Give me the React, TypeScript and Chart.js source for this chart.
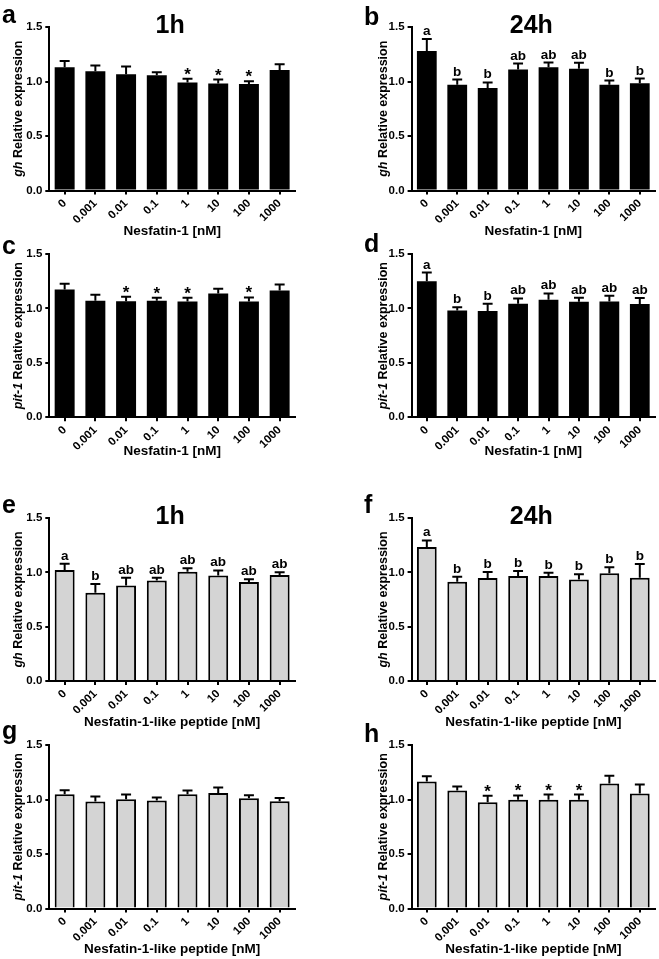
import React, { useEffect, useRef } from 'react';
import { Chart, registerables } from 'chart.js';

Chart.register(...registerables);

const FONT = '"Liberation Sans", Arial, sans-serif';

// ---- data ----
const doses = ['0', '0.001', '0.01', '0.1', '1', '10', '100', '1000'];
const yTickValues = [0, 0.5, 1.0, 1.5];

// a: gh, Nesfatin-1, 1h
const ghNesf1hMean = [1.13, 1.095, 1.067, 1.058, 0.99, 0.982, 0.976, 1.106];
const ghNesf1hSem = [0.057, 0.052, 0.07, 0.027, 0.036, 0.036, 0.027, 0.052];
const ghNesf1hSig = ['', '', '', '', '*', '*', '*', ''];

// b: gh, Nesfatin-1, 24h
const ghNesf24hMean = [1.28, 0.97, 0.94, 1.11, 1.13, 1.116, 0.97, 0.985];
const ghNesf24hSem = [0.11, 0.048, 0.051, 0.055, 0.044, 0.055, 0.039, 0.042];
const ghNesf24hSig = ['a', 'b', 'b', 'ab', 'ab', 'ab', 'b', 'b'];

// c: pit-1, Nesfatin-1, 1h
const pitNesf1hMean = [1.174, 1.07, 1.067, 1.07, 1.064, 1.138, 1.064, 1.165];
const pitNesf1hSem = [0.052, 0.055, 0.04, 0.028, 0.034, 0.042, 0.037, 0.055];
const pitNesf1hSig = ['', '', '*', '*', '*', '', '*', ''];

// d: pit-1, Nesfatin-1, 24h
const pitNesf24hMean = [1.25, 0.982, 0.976, 1.043, 1.08, 1.061, 1.064, 1.04];
const pitNesf24hSem = [0.08, 0.03, 0.067, 0.049, 0.058, 0.037, 0.052, 0.055];
const pitNesf24hSig = ['a', 'b', 'b', 'ab', 'ab', 'ab', 'ab', 'ab'];

// e: gh, Nesfatin-1-like peptide, 1h
const ghLike1hMean = [1.021, 0.813, 0.878, 0.924, 1.006, 0.972, 0.911, 0.976];
const ghLike1hSem = [0.059, 0.08, 0.073, 0.027, 0.031, 0.046, 0.025, 0.024];
const ghLike1hSig = ['a', 'b', 'ab', 'ab', 'ab', 'ab', 'ab', 'ab'];

// f: gh, Nesfatin-1-like peptide, 24h
const ghLike24hMean = [1.232, 0.914, 0.948, 0.966, 0.966, 0.933, 0.991, 0.951];
const ghLike24hSem = [0.062, 0.046, 0.055, 0.046, 0.031, 0.049, 0.055, 0.125];
const ghLike24hSig = ['a', 'b', 'b', 'b', 'b', 'b', 'b', 'b'];

// g: pit-1, Nesfatin-1-like peptide, 1h
const pitLike1hMean = [1.049, 0.982, 1.003, 0.991, 1.049, 1.061, 1.012, 0.985];
const pitLike1hSem = [0.037, 0.046, 0.043, 0.027, 0.034, 0.049, 0.028, 0.03];
const pitLike1hSig = ['', '', '', '', '', '', '', ''];

// h: pit-1, Nesfatin-1-like peptide, 24h
const pitLike24hMean = [1.165, 1.083, 0.976, 0.997, 0.997, 0.997, 1.147, 1.055];
const pitLike24hSem = [0.049, 0.036, 0.058, 0.04, 0.049, 0.049, 0.07, 0.083];
const pitLike24hSig = ['', '', '*', '*', '*', '*', '', ''];

// ---- panel layout (positions / styles only) ----
const CANVAS_H = 240;
const PLOT_TOP = 27;

type PanelCfg = {
  letter: string;
  letterDy: number;
  mean: number[];
  sem: number[];
  sig: string[];
  gene: string;
  xTitle: string;
  time: string;
  fill: string;
  borderWidth: number;
  left: number;
  top: number;
  width: number;
  axisX: number;
  padRight: number;
  yTitleDx: number;
  plotH: number;
  xTitleY: number;
};

const rows = [
  { top: 0, plotH: 163.5, xTitleY: 231 },
  { top: 227, plotH: 163.3, xTitleY: 224 },
  { top: 491, plotH: 163, xTitleY: 231 },
  { top: 718, plotH: 163.6, xTitleY: 231 },
];
const cols = [
  { left: 0, width: 298, axisX: 49.3, padRight: 3, yTitleDx: -31 },
  { left: 362, width: 296, axisX: 49.6, padRight: 3, yTitleDx: -28 },
];

const nesf = 'Nesfatin-1 [nM]';
const like = 'Nesfatin-1-like peptide [nM]';

const panels: PanelCfg[] = [
  { letter: 'a', letterDy: -4, mean: ghNesf1hMean, sem: ghNesf1hSem, sig: ghNesf1hSig, gene: 'gh', xTitle: nesf, time: '1h', fill: '#000000', borderWidth: 0, ...cols[0], ...rows[0] },
  { letter: 'b', letterDy: -2, mean: ghNesf24hMean, sem: ghNesf24hSem, sig: ghNesf24hSig, gene: 'gh', xTitle: nesf, time: '24h', fill: '#000000', borderWidth: 0, ...cols[1], ...rows[0] },
  { letter: 'c', letterDy: 0, mean: pitNesf1hMean, sem: pitNesf1hSem, sig: pitNesf1hSig, gene: 'pit-1', xTitle: nesf, time: '', fill: '#000000', borderWidth: 0, ...cols[0], ...rows[1] },
  { letter: 'd', letterDy: -2, mean: pitNesf24hMean, sem: pitNesf24hSem, sig: pitNesf24hSig, gene: 'pit-1', xTitle: nesf, time: '', fill: '#000000', borderWidth: 0, ...cols[1], ...rows[1] },
  { letter: 'e', letterDy: -5, mean: ghLike1hMean, sem: ghLike1hSem, sig: ghLike1hSig, gene: 'gh', xTitle: like, time: '1h', fill: '#d4d4d4', borderWidth: 2, ...cols[0], ...rows[2] },
  { letter: 'f', letterDy: -5, mean: ghLike24hMean, sem: ghLike24hSem, sig: ghLike24hSig, gene: 'gh', xTitle: like, time: '24h', fill: '#d4d4d4', borderWidth: 2, ...cols[1], ...rows[2] },
  { letter: 'g', letterDy: -6, mean: pitLike1hMean, sem: pitLike1hSem, sig: pitLike1hSig, gene: 'pit-1', xTitle: like, time: '', fill: '#d4d4d4', borderWidth: 2, ...cols[0], ...rows[3] },
  { letter: 'h', letterDy: -3, mean: pitLike24hMean, sem: pitLike24hSem, sig: pitLike24hSig, gene: 'pit-1', xTitle: like, time: '', fill: '#d4d4d4', borderWidth: 2, ...cols[1], ...rows[3] },
];

const decorPlugin = {
  id: 'decor',
  afterDatasetsDraw(chart: any, _args: any, opts: any) {
    const { ctx, chartArea } = chart;
    const y = chart.scales.y;
    const meta = chart.getDatasetMeta(0);
    ctx.save();
    // error bars + significance labels
    ctx.strokeStyle = '#000';
    ctx.fillStyle = '#000';
    ctx.lineWidth = 2;
    meta.data.forEach((bar: any, i: number) => {
      const m = opts.mean[i];
      const e = opts.sem[i];
      const yBase = y.getPixelForValue(m);
      const yTop = y.getPixelForValue(m + e);
      const half = bar.width / 4;
      ctx.beginPath();
      ctx.moveTo(bar.x, yBase);
      ctx.lineTo(bar.x, yTop);
      ctx.moveTo(bar.x - half, yTop);
      ctx.lineTo(bar.x + half, yTop);
      ctx.stroke();
      const s = opts.sig[i];
      if (s) {
        ctx.font = s === '*' ? `bold 17px ${FONT}` : `bold 13.5px ${FONT}`;
        ctx.textAlign = 'center';
        ctx.textBaseline = 'alphabetic';
        const mt = ctx.measureText(s);
        const d = mt.actualBoundingBoxDescent || 0;
        ctx.fillText(s, bar.x, yTop - 4 - d);
      }
    });
    // panel letter
    ctx.textAlign = 'left';
    ctx.textBaseline = 'alphabetic';
    ctx.font = `bold 25px ${FONT}`;
    ctx.fillText(opts.letter, 2, chartArea.top + opts.letterDy);
    // time title
    if (opts.time) {
      ctx.textAlign = 'center';
      ctx.font = `bold 25px ${FONT}`;
      ctx.fillText(opts.time, (chartArea.left + chartArea.right) / 2 - 2, chartArea.top + 6);
    }
    // y axis title with italic gene name
    const cx = chartArea.left + opts.yTitleDx;
    const cy = (chartArea.top + chartArea.bottom) / 2;
    ctx.translate(cx, cy);
    ctx.rotate(-Math.PI / 2);
    const fi = `italic bold 12.5px ${FONT}`;
    const fr = `bold 12.5px ${FONT}`;
    const rest = ' Relative expression';
    ctx.font = fi;
    const w1 = ctx.measureText(opts.gene).width;
    ctx.font = fr;
    const w2 = ctx.measureText(rest).width;
    const x0 = -(w1 + w2) / 2;
    ctx.textAlign = 'left';
    ctx.textBaseline = 'middle';
    ctx.font = fi;
    ctx.fillText(opts.gene, x0, 0);
    ctx.font = fr;
    ctx.fillText(rest, x0 + w1, 0);
    ctx.restore();
  },
};

function Panel({ cfg }: { cfg: PanelCfg }) {
  const ref = useRef<HTMLCanvasElement | null>(null);
  useEffect(() => {
    if (!ref.current) return;
    const xH = CANVAS_H - PLOT_TOP - cfg.plotH;
    const titleLH = 13.5 * 1.2;
    const pb = Math.max(0, CANVAS_H - cfg.xTitleY - titleLH / 2);
    const tickFont = { family: FONT, size: 11.5, weight: 'bold' as const };
    const chart = new Chart(ref.current, {
      type: 'bar',
      data: {
        labels: doses,
        datasets: [
          {
            data: cfg.mean,
            backgroundColor: cfg.fill,
            borderColor: '#000',
            borderWidth: cfg.borderWidth,
            barPercentage: 0.65,
            categoryPercentage: 1,
          },
        ],
      },
      options: {
        responsive: false,
        animation: false,
        devicePixelRatio: 1,
        layout: { padding: { top: PLOT_TOP, right: cfg.padRight, left: 0, bottom: 0 } },
        plugins: {
          legend: { display: false },
          tooltip: { enabled: false },
          decor: {
            mean: cfg.mean,
            sem: cfg.sem,
            sig: cfg.sig,
            letter: cfg.letter,
            letterDy: cfg.letterDy,
            time: cfg.time,
            gene: cfg.gene,
            yTitleDx: cfg.yTitleDx,
          },
        } as any,
        scales: {
          x: {
            grid: { offset: false, drawOnChartArea: false, drawTicks: true, tickLength: 4, color: '#000', lineWidth: 2 },
            border: { color: '#000', width: 2 },
            ticks: { font: tickFont, color: '#000', minRotation: 45, maxRotation: 45, autoSkip: false, padding: 2 },
            title: {
              display: true,
              text: cfg.xTitle,
              color: '#000',
              font: { family: FONT, size: 13.5, weight: 'bold' },
              padding: { top: 0, bottom: pb },
            },
            afterFit: (s: any) => {
              s.height = xH;
            },
          },
          y: {
            min: 0,
            max: 1.5,
            afterBuildTicks: (s: any) => {
              s.ticks = yTickValues.map((v) => ({ value: v }));
            },
            ticks: { font: tickFont, color: '#000', padding: 3, callback: (v: any) => Number(v).toFixed(1) },
            grid: { drawOnChartArea: false, drawTicks: true, tickLength: 4, color: '#000', lineWidth: 2 },
            border: { color: '#000', width: 2 },
            afterFit: (s: any) => {
              s.width = cfg.axisX;
            },
          },
        },
      },
      plugins: [decorPlugin as any],
    });
    return () => chart.destroy();
  }, [cfg]);
  return (
    <canvas
      ref={ref}
      width={cfg.width}
      height={CANVAS_H}
      style={{ position: 'absolute', left: cfg.left, top: cfg.top, width: cfg.width, height: CANVAS_H }}
    />
  );
}

export default function App() {
  return (
    <div
      style={{
        position: 'absolute',
        left: 0,
        top: 0,
        width: 659,
        height: 959,
        overflow: 'hidden',
        background: '#ffffff',
      }}
    >
      {panels.map((p) => (
        <Panel key={p.letter} cfg={p} />
      ))}
    </div>
  );
}
